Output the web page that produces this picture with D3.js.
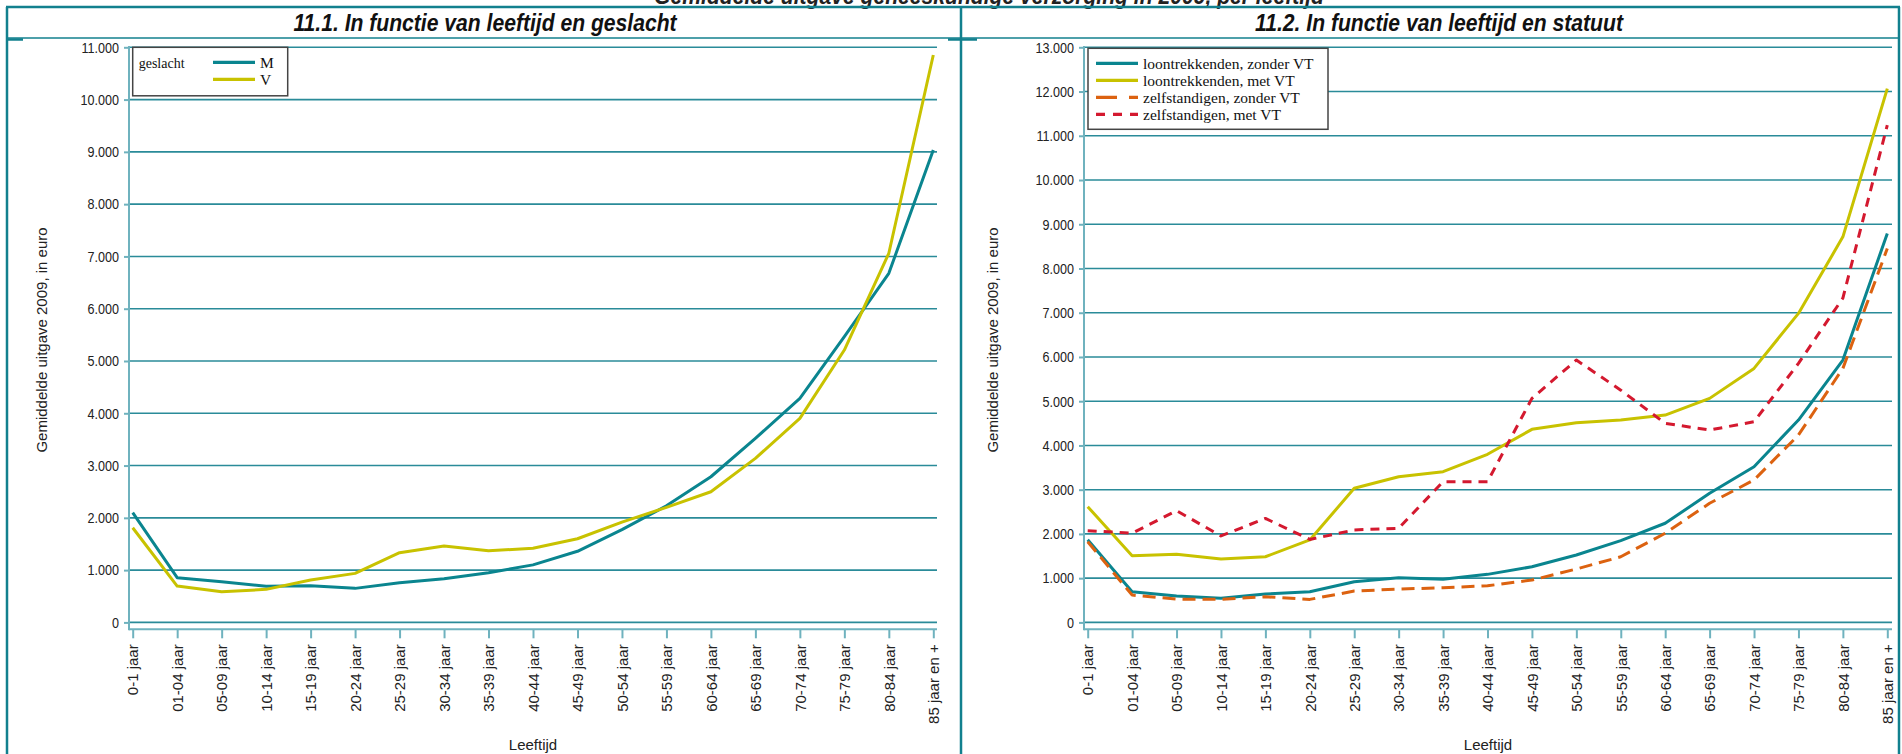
<!DOCTYPE html>
<html>
<head>
<meta charset="utf-8">
<script src="https://cdn.jsdelivr.net/npm/d3@7"></script>
<style>
  body { margin: 0; background: #fff; }
  svg { display: block; }
</style>
</head>
<body>
<div id="wrapper"></div>
<script>
// Categories and values
const categories = ["0-1 jaar", "01-04 jaar", "05-09 jaar", "10-14 jaar", "15-19 jaar", "20-24 jaar",
  "25-29 jaar", "30-34 jaar", "35-39 jaar", "40-44 jaar", "45-49 jaar", "50-54 jaar", "55-59 jaar",
  "60-64 jaar", "65-69 jaar", "70-74 jaar", "75-79 jaar", "80-84 jaar", "85 jaar en +"];

// 11.1 geslacht
const mannen = [2100, 855, 778, 690, 700, 651, 759, 835, 950, 1100, 1360, 1775, 2230, 2786, 3520, 4285, 5464, 6677, 9036];
const vrouwen = [1810, 695, 587, 632, 810, 938, 1333, 1462, 1370, 1420, 1600, 1919, 2200, 2499, 3137, 3903, 5210, 7060, 10853];

// 11.2 statuut
const loonZonderVT = [1870, 692, 595, 545, 640, 692, 919, 1010, 975, 1086, 1258, 1523, 1850, 2241, 2918, 3519, 4574, 5930, 8792];
const loonMetVT = [2616, 1507, 1538, 1432, 1484, 1864, 3031, 3293, 3406, 3800, 4364, 4514, 4574, 4687, 5064, 5742, 6985, 8715, 12067];
const zelfZonderVT = [1824, 618, 527, 520, 580, 520, 708, 753, 783, 828, 957, 1206, 1484, 2015, 2693, 3219, 4235, 5742, 8453];
const zelfMetVT = [2074, 2015, 2526, 1954, 2350, 1875, 2090, 2128, 3180, 3180, 5064, 5930, 5250, 4500, 4348, 4536, 5855, 7330, 11238];

const yTicksLeft = d3.range(0, 11001, 1000);
const yTicksRight = d3.range(0, 13001, 1000);

const width = 1902;
const height = 754;
const frameColor = "#12808e";
const gridColor = "#2a8b99";
const axisColor = "#6fb2be";
const titleSqueeze = 0.88; // titles use a narrow bold italic face in the original

// Dutch number format: 11.000
const nl = d3.formatLocale({decimal: ",", thousands: ".", grouping: [3], currency: ["€", ""]});
const fmt = nl.format(",");

const svg = d3.select("#wrapper").append("svg")
  .attr("width", width)
  .attr("height", height);

// Overall title, cut off at the top of the picture (as in the original)
svg.append("text")
  .attr("x", 989 / titleSqueeze)
  .attr("y", 4)
  .attr("transform", `scale(${titleSqueeze},1)`)
  .attr("text-anchor", "middle")
  .style("font-family", "'Liberation Sans', Arial, sans-serif")
  .style("font-weight", "bold")
  .style("font-style", "italic")
  .style("font-size", "24px")
  .style("fill", "#222")
  .text("Gemiddelde uitgave geneeskundige verzorging in 2009, per leeftijd");

// Frame lines
const frame = svg.append("g").attr("stroke", frameColor).attr("fill", "none");
frame.append("line").attr("x1", 6).attr("x2", 1900).attr("y1", 7).attr("y2", 7).attr("stroke-width", 2.5);
frame.append("line").attr("x1", 7).attr("x2", 1899).attr("y1", 38).attr("y2", 38).attr("stroke-width", 1.5);
[7, 961, 1899].forEach(xv => {
  frame.append("line").attr("x1", xv).attr("x2", xv).attr("y1", 7).attr("y2", height).attr("stroke-width", 2.5);
});
frame.append("line").attr("x1", 7).attr("x2", 23).attr("y1", 39.5).attr("y2", 39.5).attr("stroke-width", 2.5);
frame.append("line").attr("x1", 948).attr("x2", 977).attr("y1", 39.5).attr("y2", 39.5).attr("stroke-width", 2.5);

// Draws one panel
function drawPanel(opts) {
  const g = svg.append("g");

  g.append("text")
    .attr("x", opts.titleX / titleSqueeze)
    .attr("y", 31)
    .attr("transform", `scale(${titleSqueeze},1)`)
    .attr("text-anchor", "middle")
    .style("font-family", "'Liberation Sans', Arial, sans-serif")
    .style("font-weight", "bold")
    .style("font-style", "italic")
    .style("font-size", "24px")
    .style("fill", "#111")
    .text(opts.title);

  const x = d3.scalePoint().domain(categories).range(opts.xRange);
  const y = d3.scaleLinear().domain([0, opts.yMax]).range([622.4, 47.3]);

  // Gridlines
  g.append("g").selectAll("line")
    .data(opts.yTicks)
    .join("line")
    .attr("x1", opts.axisX)
    .attr("x2", opts.gridEnd)
    .attr("y1", d => y(d))
    .attr("y2", d => y(d))
    .attr("stroke", gridColor)
    .attr("stroke-width", 1.6);

  // y axis
  const yAxis = g.append("g")
    .attr("transform", `translate(${opts.axisX},0)`)
    .call(d3.axisLeft(y).tickValues(opts.yTicks).tickFormat(fmt).tickSize(5).tickPadding(5));
  yAxis.select(".domain").remove();
  yAxis.selectAll(".tick line").attr("stroke", axisColor).attr("stroke-width", 2);
  // labels are narrow in the original: squeeze them horizontally
  const squeeze = 0.84;
  yAxis.selectAll(".tick text")
    .attr("x", -10 / squeeze)
    .attr("transform", `scale(${squeeze},1)`)
    .style("font-family", "'Liberation Sans', Arial, sans-serif")
    .style("font-size", "15px")
    .style("fill", "#222");

  // x axis
  const axisY = 629.3;
  const xAxis = g.append("g")
    .attr("transform", `translate(0,${axisY})`)
    .call(d3.axisBottom(x).tickSize(9).tickSizeOuter(0));
  xAxis.select(".domain").remove();
  xAxis.selectAll(".tick line").attr("stroke", axisColor).attr("stroke-width", 2);
  xAxis.selectAll(".tick text")
    .attr("transform", "rotate(-90)")
    .attr("x", -15)
    .attr("y", 0)
    .attr("dy", "0.35em")
    .style("text-anchor", "end")
    .style("font-family", "'Liberation Sans', Arial, sans-serif")
    .style("font-size", "15px")
    .style("fill", "#222");

  // axis lines
  g.append("line")
    .attr("x1", opts.axisX).attr("x2", opts.axisX)
    .attr("y1", 46).attr("y2", axisY + 1)
    .attr("stroke", axisColor).attr("stroke-width", 2);
  g.append("line")
    .attr("x1", opts.axisX).attr("x2", opts.gridEnd)
    .attr("y1", axisY).attr("y2", axisY)
    .attr("stroke", axisColor).attr("stroke-width", 2);

  // axis titles
  g.append("text")
    .attr("transform", `translate(${opts.yTitleX},340) rotate(-90)`)
    .attr("text-anchor", "middle")
    .attr("dy", "0.35em")
    .style("font-family", "'Liberation Sans', Arial, sans-serif")
    .style("font-size", "15px")
    .style("fill", "#222")
    .text("Gemiddelde uitgave 2009, in euro");

  g.append("text")
    .attr("x", (opts.axisX + opts.gridEnd) / 2)
    .attr("y", 745)
    .attr("text-anchor", "middle")
    .attr("dy", "0.35em")
    .style("font-family", "'Liberation Sans', Arial, sans-serif")
    .style("font-size", "15px")
    .style("fill", "#222")
    .text("Leeftijd");

  // lines
  const line = d3.line()
    .x((d, i) => x(categories[i]))
    .y(d => y(d));

  opts.series.forEach(s => {
    g.append("path")
      .datum(s.values)
      .attr("d", line)
      .attr("fill", "none")
      .attr("stroke", s.color)
      .attr("stroke-width", 3)
      .attr("stroke-linejoin", "round")
      .attr("stroke-dasharray", s.dash || null);
  });

  // legend
  const lg = g.append("g");
  lg.append("rect")
    .attr("x", opts.legend.x)
    .attr("y", opts.legend.y)
    .attr("width", opts.legend.w)
    .attr("height", opts.legend.h)
    .attr("fill", "#fff")
    .attr("stroke", "#444")
    .attr("stroke-width", 1.5);
  if (opts.legend.title) {
    lg.append("text")
      .attr("x", opts.legend.x + 6)
      .attr("y", opts.legend.y + 16)
      .attr("dy", "0.35em")
      .style("font-family", "'Liberation Serif', 'Times New Roman', serif")
      .style("font-size", "14px")
      .style("fill", "#111")
      .text(opts.legend.title);
  }
  opts.series.forEach((s, i) => {
    const ly = opts.legend.y + 15 + i * 17;
    lg.append("line")
      .attr("x1", opts.legend.swatchX)
      .attr("x2", opts.legend.swatchX + 42)
      .attr("y1", ly).attr("y2", ly)
      .attr("stroke", s.color)
      .attr("stroke-width", 3.2)
      .attr("stroke-dasharray", s.legendDash || null);
    lg.append("text")
      .attr("x", opts.legend.swatchX + 47)
      .attr("y", ly)
      .attr("dy", "0.35em")
      .style("font-family", "'Liberation Serif', 'Times New Roman', serif")
      .style("font-size", "15.5px")
      .style("fill", "#111")
      .text(s.name);
  });
}

const teal = "#0a858f";
const yellow = "#c8c200";
const orange = "#dc6210";
const red = "#d4192f";

drawPanel({
  title: "11.1. In functie van leeftijd en geslacht",
  titleX: 485,
  xRange: [132.7, 933.3],
  axisX: 129,
  gridEnd: 937,
  yMax: 11000,
  yTicks: yTicksLeft,
  yTitleX: 42,
  series: [
    {name: "M", values: mannen, color: teal},
    {name: "V", values: vrouwen, color: yellow}
  ],
  legend: {x: 132.7, y: 47.3, w: 155, h: 48.5, title: "geslacht", swatchX: 213}
});

drawPanel({
  title: "11.2. In functie van leeftijd en statuut",
  titleX: 1439,
  xRange: [1087.7, 1887.3],
  axisX: 1084,
  gridEnd: 1892,
  yMax: 13000,
  yTicks: yTicksRight,
  yTitleX: 993,
  series: [
    {name: "loontrekkenden, zonder VT", values: loonZonderVT, color: teal},
    {name: "loontrekkenden, met VT", values: loonMetVT, color: yellow},
    {name: "zelfstandigen, zonder VT", values: zelfZonderVT, color: orange, dash: "13,7", legendDash: "21,12"},
    {name: "zelfstandigen, met VT", values: zelfMetVT, color: red, dash: "9,7", legendDash: "9,8"}
  ],
  legend: {x: 1088, y: 48.3, w: 240, h: 81, swatchX: 1096}
});
</script>
</body>
</html>
